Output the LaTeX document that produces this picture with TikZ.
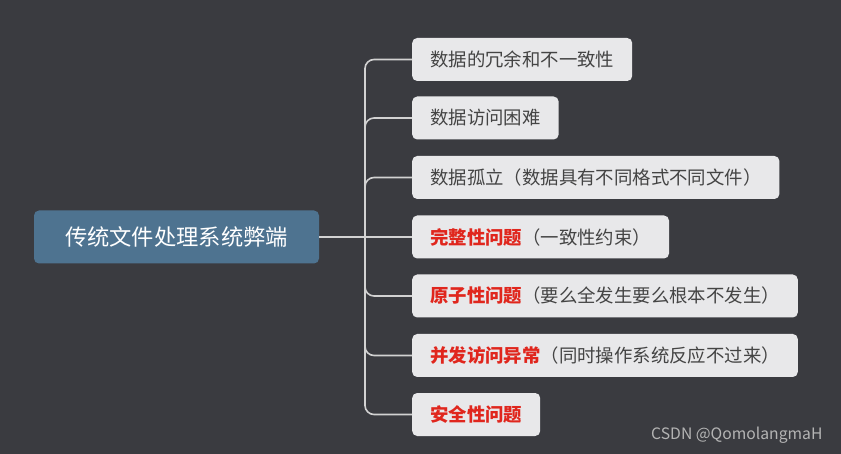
\documentclass[tikz,border=0pt]{standalone}
\usepackage{fontspec}
\setmainfont{Noto Sans CJK SC}
\definecolor{bgcol}{HTML}{3A3B40}
\definecolor{rootcol}{HTML}{4E7390}
\definecolor{leafcol}{HTML}{E8E8EA}
\definecolor{txtcol}{HTML}{444444}
\definecolor{hotcol}{HTML}{E0261D}
\definecolor{linecol}{HTML}{D2D2D2}
\definecolor{markcol}{HTML}{B4B4B4}
\tikzset{
  rootbox/.style={fill=rootcol, rounded corners=5pt, text=white, minimum width=285pt,
    minimum height=53pt, inner sep=0pt, font=\fontsize{22.3}{25}\selectfont},
  leafbox/.style={fill=leafcol, rounded corners=5pt, text=txtcol, anchor=west,
    minimum height=43pt, inner xsep=18pt, inner ysep=0pt, font=\fontsize{18.4}{21}\selectfont},
  branch/.style={draw=linecol, line width=1.6pt, rounded corners=9pt},
}
\newcommand{\hot}[1]{\textcolor{hotcol}{\bfseries #1}}
\begin{document}
\begin{tikzpicture}[x=1pt,y=-1pt]
  \fill[bgcol] (0,0) rectangle (841,454);
  \node[rootbox] (root) at (176.5,237) {传统文件处理系统弊端};
  \coordinate (trunk) at (365,237);
  \node[leafbox] (b1) at (412,59.5) {数据的冗余和不一致性};
  \node[leafbox] (b2) at (412,118) {数据访问困难};
  \node[leafbox] (b3) at (412,177.5) {数据孤立（数据具有不同格式不同文件）};
  \node[leafbox] (b4) at (412,237) {\hot{完整性问题}（一致性约束）};
  \node[leafbox] (b5) at (412,296) {\hot{原子性问题}（要么全发生要么根本不发生）};
  \node[leafbox] (b6) at (412,355.5) {\hot{并发访问异常}（同时操作系统反应不过来）};
  \node[leafbox] (b7) at (412,414.5) {\hot{安全性问题}};
  \draw[branch] (root.east) -- (b4.west);
  \foreach \b in {b1,b2,b3,b5,b6,b7}
    \draw[branch] (trunk) |- (\b.west);
  \node[text=markcol, font=\fontsize{15.7}{18}\selectfont, anchor=east] (mark) at (826,435) {CSDN @QomolangmaH};
\end{tikzpicture}
\end{document}
